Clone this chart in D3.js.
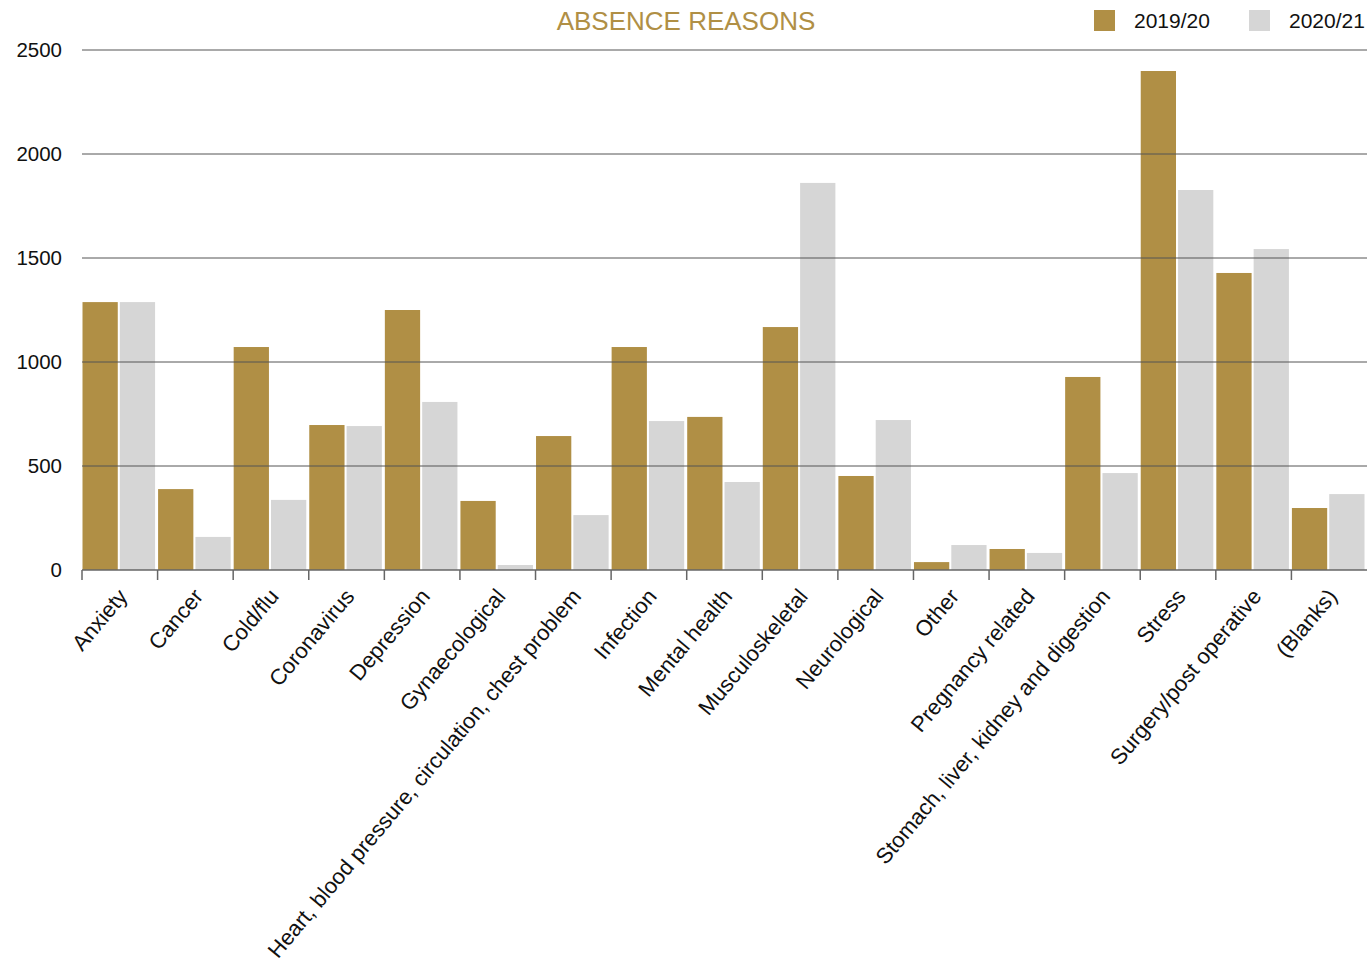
<!DOCTYPE html>
<html>
<head>
<meta charset="utf-8">
<script src="https://cdn.jsdelivr.net/npm/d3@7"></script>
<style>
  body { margin: 0; background: #fff; }
  text { font-family: "Liberation Sans", Arial, sans-serif; }
</style>
</head>
<body>
<svg width="1367" height="967"></svg>
<script>
var categories = ["Anxiety", "Cancer", "Cold/flu", "Coronavirus", "Depression", "Gynaecological",
  "Heart, blood pressure, circulation, chest problem", "Infection", "Mental health", "Musculoskeletal",
  "Neurological", "Other", "Pregnancy related", "Stomach, liver, kidney and digestion", "Stress",
  "Surgery/post operative", "(Blanks)"];
var series = ["2019/20", "2020/21"];
var values1920 = [1288, 389, 1072, 697, 1250, 332, 644, 1072, 736, 1168, 452, 38, 101, 928, 2399, 1428, 298];
var values2021 = [1288, 159, 337, 692, 808, 24, 264, 716, 423, 1861, 721, 120, 82, 466, 1827, 1543, 365];
var yTicks = [0, 500, 1000, 1500, 2000, 2500];

var svg = d3.select("svg"),
    colors = ["#b08f45", "#d6d6d6"];

var margin = {top: 50, right: 0, bottom: 397, left: 82},
    width = 1367 - margin.left - margin.right,
    height = 967 - margin.top - margin.bottom;

var x = d3.scaleBand().domain(categories).range([0, width]);
var x1 = d3.scaleBand().domain(series).range([0.5, x.bandwidth() - 2.5]).paddingInner(0.055);
var y = d3.scaleLinear().domain([0, 2500]).range([height, 0]);

var g = svg.append("g").attr("transform", "translate(" + margin.left + "," + margin.top + ")");

var rows = categories.map(function(c, i) { return {cat: c, vals: [values1920[i], values2021[i]]}; });

var group = g.selectAll(".grp")
  .data(rows)
  .enter().append("g")
    .attr("transform", function(d) { return "translate(" + x(d.cat) + ",0)"; });

group.selectAll("rect")
  .data(function(d) { return d.vals.map(function(v, i) { return {key: series[i], v: v, i: i}; }); })
  .enter().append("rect")
    .attr("x", function(d) { return x1(d.key); })
    .attr("width", x1.bandwidth())
    .attr("y", function(d) { return y(d.v); })
    .attr("height", function(d) { return height - y(d.v); })
    .attr("fill", function(d) { return colors[d.i]; });

// gridlines on top of bars
g.selectAll(".grid")
  .data(yTicks.slice(1))
  .enter().append("line")
    .attr("x1", 0).attr("x2", width)
    .attr("y1", function(d) { return y(d); })
    .attr("y2", function(d) { return y(d); })
    .attr("stroke", "#555").attr("stroke-width", 1);

// y labels
g.selectAll(".ylab")
  .data(yTicks)
  .enter().append("text")
    .attr("x", -20)
    .attr("y", function(d) { return y(d); })
    .attr("dy", "0.35em")
    .attr("text-anchor", "end")
    .style("font-size", "20.5px")
    .attr("fill", "#111")
    .text(function(d) { return d; });

// x axis
g.append("line")
  .attr("x1", 0).attr("x2", width)
  .attr("y1", height).attr("y2", height)
  .attr("stroke", "#666").attr("stroke-width", 1.5);

g.selectAll(".xtick")
  .data(categories)
  .enter().append("line")
    .attr("x1", function(d) { return x(d); })
    .attr("x2", function(d) { return x(d); })
    .attr("y1", height).attr("y2", height + 10)
    .attr("stroke", "#666").attr("stroke-width", 1.5);

g.selectAll(".xlab")
  .data(categories)
  .enter().append("text")
    .attr("transform", function(d) {
      return "translate(" + (x(d) + x.bandwidth() / 2 + 3) + "," + (height + 22) + ") rotate(-50)";
    })
    .attr("text-anchor", "end")
    .attr("dy", "0.35em")
    .style("font-size", "22px")
    .attr("fill", "#111")
    .text(function(d) { return d; });

// title
svg.append("text")
  .attr("x", 686).attr("y", 30)
  .attr("text-anchor", "middle")
  .style("font-size", "26px")
  .attr("fill", "#b08f45")
  .text("ABSENCE REASONS");

// legend
var legend = svg.selectAll(".leg")
  .data(series)
  .enter().append("g")
    .attr("transform", function(d, i) { return "translate(" + (1094 + i * 155) + ",10)"; });

legend.append("rect")
  .attr("width", 21).attr("height", 21)
  .attr("fill", function(d, i) { return colors[i]; });

legend.append("text")
  .attr("x", 40).attr("y", 11)
  .attr("dy", "0.35em")
  .style("font-size", "21px")
  .attr("fill", "#111")
  .text(function(d) { return d; });
</script>
</body>
</html>
